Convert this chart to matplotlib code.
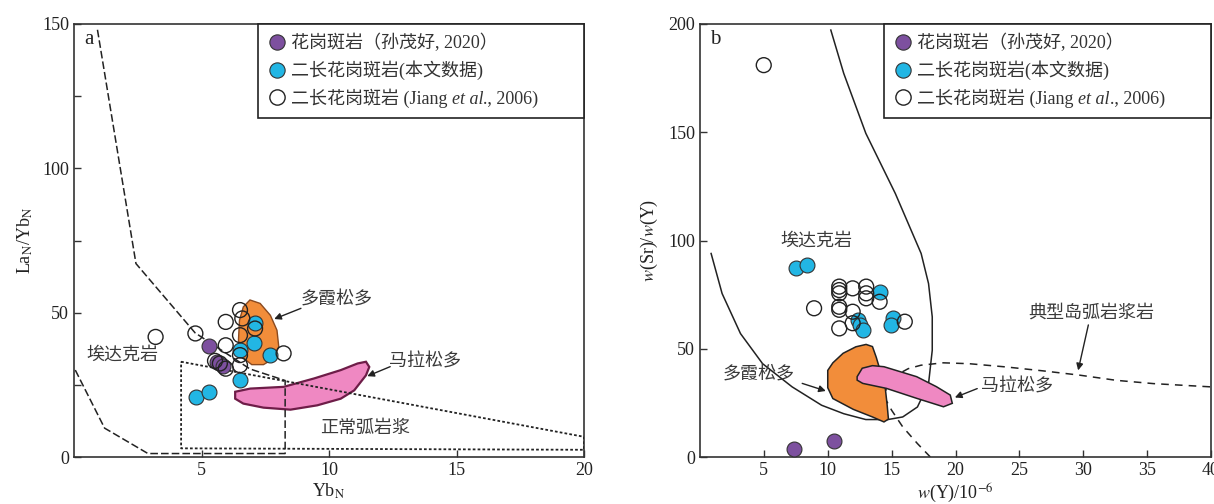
import numpy as np
import matplotlib.pyplot as plt
from matplotlib.patches import Polygon
from matplotlib.lines import Line2D

plt.rcParams['font.family'] = ['Liberation Serif', 'Noto Sans CJK SC']
plt.rcParams['mathtext.fontset'] = 'stix'

CYAN = '#22b6e4'
PURPLE = '#7d509f'
ORANGE = '#f28d3a'
PINK = '#ef88c2'
TXT = '#3a3a3a'

# ---- panel a: LaN/YbN vs YbN ----
a_purple_x = [5.3, 5.6, 5.85]
a_purple_y = [38.5, 33.0, 31.5]
a_cyan_x = [7.1, 7.06, 6.5, 7.7, 6.5, 4.77, 5.3]
a_cyan_y = [46.3, 39.6, 37.1, 35.2, 26.8, 20.9, 22.5]
a_open_x = [3.2, 4.76, 5.95, 6.51, 6.6, 6.51, 7.1, 5.95, 5.53, 5.72, 5.95, 6.51, 6.51, 8.22]
a_open_y = [41.6, 42.8, 46.8, 50.9, 48.0, 42.2, 44.5, 38.7, 33.3, 32.4, 30.6, 35.3, 31.8, 35.9]

a_dox_x = [6.9, 7.3, 7.7, 7.96, 8.03, 7.83, 7.43, 6.97, 6.58, 6.45, 6.49, 6.64]
a_dox_y = [54.4, 53.2, 49.1, 43.9, 38.2, 34.1, 32.0, 32.0, 34.7, 40.5, 47.4, 52.0]
a_mal_x = [6.32, 6.91, 8.22, 9.41, 10.46, 11.12, 11.45, 11.58, 11.45, 10.99, 10.46, 9.54, 8.49, 7.43, 6.64, 6.32]
a_mal_y = [22.6, 23.7, 24.3, 27.2, 30.1, 32.4, 33.0, 31.2, 28.3, 23.1, 20.2, 17.9, 16.4, 17.1, 18.5, 20.2]

a_adakite_x = [0.92, 2.43, 4.75, 6.9, 8.28, 8.28, 2.9, 1.2, 0.0]
a_adakite_y = [148, 67, 43, 30.5, 26.5, 1.2, 1.2, 10, 31]
a_arc_x = [4.2, 20.0, 20.0, 4.2, 4.2]
a_arc_y = [33.0, 7.0, 2.5, 3.0, 33.0]

# ---- panel b: Sr/Y vs Y ----
b_purple_x = [7.36, 10.47]
b_purple_y = [3.9, 7.4]
b_cyan_x = [7.48, 8.4, 14.06, 12.35, 12.55, 12.74, 15.11, 14.98]
b_cyan_y = [87.2, 88.7, 76.4, 63.3, 61.0, 58.7, 64.1, 61.0]
b_open_x = [4.99, 8.93, 10.9, 10.9, 10.9, 10.9, 10.9, 11.95, 13.01, 13.01, 13.01, 14.06, 11.95, 10.9, 11.95, 16.03]
b_open_y = [181, 68.7, 78.7, 77.1, 75.6, 69.4, 68.0, 77.9, 78.7, 75.6, 73.3, 71.7, 67.1, 59.4, 61.8, 62.5]

b_adakite_x = [10.24, 11.25, 12.98, 15.29, 17.31, 17.89, 18.18, 18.18, 17.89, 17.02, 15.87, 14.71, 12.98,
               11.25, 9.52, 7.21, 4.9, 3.17, 1.73, 0.87]
b_adakite_y = [197.2, 177.2, 149.5, 121.7, 94.0, 80.1, 64.7, 49.3, 33.9, 23.1, 18.5, 17.3, 17.3,
               20.0, 23.9, 32.4, 43.1, 57.0, 75.5, 94.0]
b_island_x = [18.03, 17.02, 15.87, 15.0, 14.4, 14.8, 16.3, 17.3, 19.04, 21.06, 23.95, 26.83, 29.72, 32.6, 35.49, 39.96]
b_island_y = [0.0, 6.2, 13.9, 21.6, 28.0, 36.0, 40.8, 42.4, 43.5, 43.1, 41.6, 39.8, 37.8, 35.4, 33.9, 32.4]
b_dox_x = [10.0, 10.4, 11.2, 12.2, 13.0, 13.5, 13.8, 14.1, 14.5, 14.65, 14.75, 14.4, 13.5, 12.0, 10.4, 10.0]
b_dox_y = [40.0, 43.5, 47.9, 50.9, 52.0, 51.0, 46.0, 40.0, 32.0, 24.0, 17.5, 16.2, 18.5, 22.0, 27.0, 32.0]
b_mal_x = [12.3, 12.7, 13.5, 14.4, 16.96, 18.5, 19.59, 19.75, 19.06, 16.96, 14.59, 12.74, 12.3]
b_mal_y = [37.1, 41.0, 42.2, 41.7, 37.1, 32.5, 28.6, 24.8, 23.2, 27.1, 31.7, 34.0, 35.5]

legend_labels = ['花岗斑岩（孙茂好, 2020）', '二长花岗斑岩(本文数据)', '二长花岗斑岩 (Jiang']

fig = plt.figure(figsize=(12.14, 5.04), dpi=100)
ax_a = fig.add_axes([74 / 1214, 47 / 504, 510 / 1214, 433 / 504])
ax_b = fig.add_axes([700 / 1214, 47 / 504, 511 / 1214, 433 / 504])

MS = 115
FS = 13


def style_axes(ax):
    for s in ax.spines.values():
        s.set_color('#333333')
        s.set_linewidth(1.2)
    ax.tick_params(which='both', direction='in', length=5, width=1, colors='#333333',
                   labelsize=13, labelcolor='#222222')


def add_legend(ax):
    handles = [
        Line2D([], [], ls='none', marker='o', ms=11, mfc=PURPLE, mec='#333333', mew=0.8),
        Line2D([], [], ls='none', marker='o', ms=11, mfc=CYAN, mec='#333333', mew=0.8),
        Line2D([], [], ls='none', marker='o', ms=11, mfc='white', mec='#222222', mew=1.0),
    ]
    leg = ax.legend(handles, legend_labels, loc='upper left', bbox_to_anchor=(0.36, 0, 0.64, 1),
                    mode='expand', borderaxespad=0, fontsize=FS,
                    frameon=True, fancybox=False, framealpha=1, edgecolor='#222222',
                    handletextpad=0.3, labelspacing=0.45, borderpad=0.55, handlelength=1.0)
    leg.get_frame().set_linewidth(1.2)
    for t in leg.get_texts():
        t.set_color('#333333')
    t3 = leg.get_texts()[2]
    t_it = ax.annotate('et al', xy=(1, 0), xycoords=t3, xytext=(3, 0), textcoords='offset points',
                       va='bottom', ha='left', fontsize=FS, fontstyle='italic', color='#333333',
                       zorder=20)
    ax.annotate('., 2006)', xy=(1, 0), xycoords=t_it, va='bottom', ha='left', fontsize=FS,
                color='#333333', zorder=21)


def scatter_all(ax, px, py, cx, cy, ox, oy):
    ax.scatter(px, py, s=MS, c=PURPLE, edgecolors='#333333', linewidths=0.8, zorder=5)
    ax.scatter(cx, cy, s=MS, c=CYAN, edgecolors='#333333', linewidths=0.8, zorder=6)
    ax.scatter(ox, oy, s=MS, facecolors='none', edgecolors='#222222', linewidths=1.0, zorder=7)


def arrow(ax, tail, head):
    ax.annotate('', xy=head, xytext=tail,
                arrowprops=dict(arrowstyle='-|>', color='#222222', lw=1.0,
                                mutation_scale=10, shrinkA=0, shrinkB=0))


# ---------------- panel a ----------------
ax = ax_a
ax.add_patch(Polygon(np.column_stack([a_mal_x, a_mal_y]), closed=True, fc=PINK, ec='#6e1d48', lw=1.6, zorder=2))
ax.add_patch(Polygon(np.column_stack([a_dox_x, a_dox_y]), closed=True, fc=ORANGE, ec='#8a4a20', lw=1.0, zorder=2))
ax.plot(a_adakite_x, a_adakite_y, ls=(0, (5, 2)), color='#222222', lw=1.1, zorder=3)
ax.plot(a_arc_x, a_arc_y, ls=(0, (1.5, 1.2)), color='#222222', lw=1.3, zorder=3)
scatter_all(ax, a_purple_x, a_purple_y, a_cyan_x, a_cyan_y, a_open_x, a_open_y)

ax.set_xlim(0, 20)
ax.set_ylim(0, 150)
ax.set_xticks([5, 10, 15, 20])
ax.set_yticks([0, 50, 100, 150])
ax.set_yticks([25, 75, 125], minor=True)
style_axes(ax)
ax.set_xlabel('Yb$_{\\rm N}$', fontsize=13, labelpad=2, color='#222222')
ax.set_ylabel('La$_{\\rm N}$/Yb$_{\\rm N}$', fontsize=13, labelpad=5, color='#222222')
ax.text(0.02, 0.985, 'a', transform=ax.transAxes, fontsize=15, va='top', ha='left', color='#222222')
ax.text(10.3, 54.5, '多霞松多', fontsize=FS, color=TXT, ha='center', va='center')
arrow(ax, (8.9, 51.5), (7.85, 47.8))
ax.text(13.75, 33.0, '马拉松多', fontsize=FS, color=TXT, ha='center', va='center')
arrow(ax, (12.4, 31.3), (11.5, 28.0))
ax.text(1.9, 35.3, '埃达克岩', fontsize=FS, color=TXT, ha='center', va='center')
ax.text(11.4, 9.8, '正常弧岩浆', fontsize=FS, color=TXT, ha='center', va='center')
add_legend(ax)

# ---------------- panel b ----------------
ax = ax_b
ax.plot(b_adakite_x, b_adakite_y, color='#222222', lw=1.1, zorder=2)
ax.plot(b_island_x, b_island_y, ls=(0, (5, 4)), color='#222222', lw=1.1, zorder=2)
ax.add_patch(Polygon(np.column_stack([b_dox_x, b_dox_y]), closed=True, fc=ORANGE, ec='#222222', lw=1.1, zorder=3))
ax.add_patch(Polygon(np.column_stack([b_mal_x, b_mal_y]), closed=True, fc=PINK, ec='#222222', lw=1.1, zorder=4))
scatter_all(ax, b_purple_x, b_purple_y, b_cyan_x, b_cyan_y, b_open_x, b_open_y)

ax.set_xlim(0, 40)
ax.set_ylim(0, 200)
ax.set_xticks([5, 10, 15, 20, 25, 30, 35, 40])
ax.set_yticks([0, 50, 100, 150, 200])
style_axes(ax)
ax.set_xlabel('$w$(Y)/10$^{-6}$', fontsize=13, labelpad=2, color='#222222')
ax.set_ylabel('$w$(Sr)/$w$(Y)', fontsize=13, labelpad=6, color='#222222')
ax.text(0.02, 0.985, 'b', transform=ax.transAxes, fontsize=15, va='top', ha='left', color='#222222')
ax.text(9.1, 99.5, '埃达克岩', fontsize=FS, color=TXT, ha='center', va='center')
ax.text(4.6, 37.7, '多霞松多', fontsize=FS, color=TXT, ha='center', va='center')
arrow(ax, (8.0, 34.0), (9.85, 30.5))
ax.text(24.8, 32.4, '马拉松多', fontsize=FS, color=TXT, ha='center', va='center')
arrow(ax, (21.7, 31.6), (19.95, 27.5))
ax.text(30.6, 66.3, '典型岛弧岩浆岩', fontsize=FS, color=TXT, ha='center', va='center')
arrow(ax, (30.4, 61.0), (29.6, 40.0))
add_legend(ax)

fig.savefig('out.png', dpi=100)
